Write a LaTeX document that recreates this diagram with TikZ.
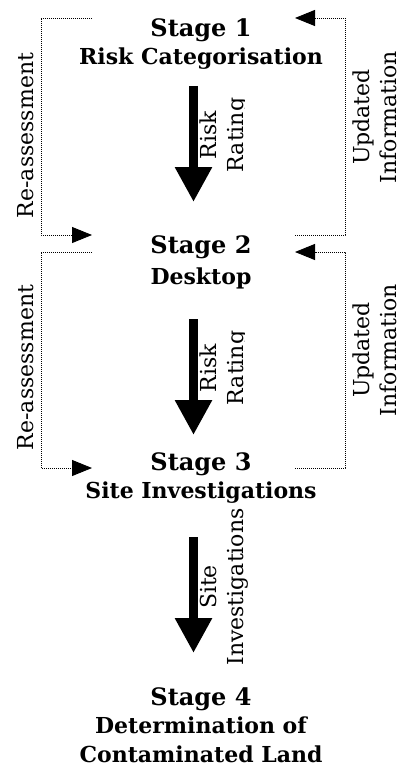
\documentclass[tikz,border=0pt]{standalone}
\usepackage{fontspec}
\setmainfont{DejaVu Serif}
\usetikzlibrary{arrows.meta}
\tikzset{
  stagehead/.style={font=\bfseries\fontsize{24}{28}\selectfont, anchor=base, inner sep=0pt},
  stagename/.style={font=\bfseries\fontsize{22}{26}\selectfont, anchor=base, inner sep=0pt},
  sidelabel/.style={font=\fontsize{22}{26.5}\selectfont, rotate=90, anchor=north, inner sep=0pt, align=center},
  bigarrow/.style={line width=9pt, -{Triangle[length=35pt,width=35pt]}},
  feedback/.style={line width=0.9pt, dash pattern=on 0.9pt off 1.1pt,
    -{Triangle[length=20pt,width=16pt]}},
}
\begin{document}
\begin{tikzpicture}[x=1pt,y=-1pt]
\useasboundingbox (0,0) rectangle (398,765);

% stage titles
\node[stagehead] (s1) at (201,37) {Stage 1};
\node[stagename] (s1d) at (201,65) {Risk Categorisation};
\node[stagehead] (s2) at (201,253) {Stage 2};
\node[stagename] (s2d) at (201,284) {Desktop};
\node[stagehead] (s3) at (201,470) {Stage 3};
\node[stagename] (s3d) at (201,498) {Site Investigations};
\node[stagehead] (s4) at (201,705) {Stage 4};
\node[stagename] (s4d) at (201,733) {Determination of};
\node[stagename] (s4e) at (201,762) {Contaminated Land};

% main flow arrows
\coordinate (a1s) at (193.5,86);  \coordinate (a1e) at (193.5,202);
\coordinate (a2s) at (193.5,319); \coordinate (a2e) at (193.5,435);
\coordinate (a3s) at (193.5,537); \coordinate (a3e) at (193.5,653);
\draw[bigarrow] (a1s) -- (a1e);
\draw[bigarrow] (a2s) -- (a2e);
\draw[bigarrow] (a3s) -- (a3e);

% arrow labels (the second line is trimmed at its baseline)
\begin{scope}
  \clip (0,0) rectangle (244,765);
  \node[sidelabel] (r1) at (200,135) {Risk\\Rating};
  \node[sidelabel] (r2) at (200,368) {Risk\\Rating};
\end{scope}
\node[sidelabel] (si) at (200,587) {Site\\Investigations};

% re-assessment loops (left)
\coordinate (la1) at (92,18);  \coordinate (la2) at (41,18);  \coordinate (la3) at (92,235);
\coordinate (lb1) at (92,252); \coordinate (lb2) at (41,252); \coordinate (lb3) at (92,468);
\draw[feedback] (la1) -- (la2) |- (la3);
\draw[feedback] (lb1) -- (lb2) |- (lb3);
\node[sidelabel] (ra1) at (17,135.5) {Re-assessment};
\node[sidelabel] (ra2) at (17,367.5) {Re-assessment};

% updated-information loops (right)
\coordinate (ua1) at (295,235); \coordinate (ua2) at (345,235); \coordinate (ua3) at (295,18);
\coordinate (ub1) at (295,468); \coordinate (ub2) at (345,468); \coordinate (ub3) at (295,252);
\draw[feedback] (ua1) -- (ua2) |- (ua3);
\draw[feedback] (ub1) -- (ub2) |- (ub3);
\begin{scope}
  \clip (0,0) rectangle (398,765);
  \node[sidelabel] (ui1) at (353,117) {Updated\\Information};
  \node[sidelabel] (ui2) at (353,350) {Updated\\Information};
\end{scope}
\end{tikzpicture}
\end{document}
